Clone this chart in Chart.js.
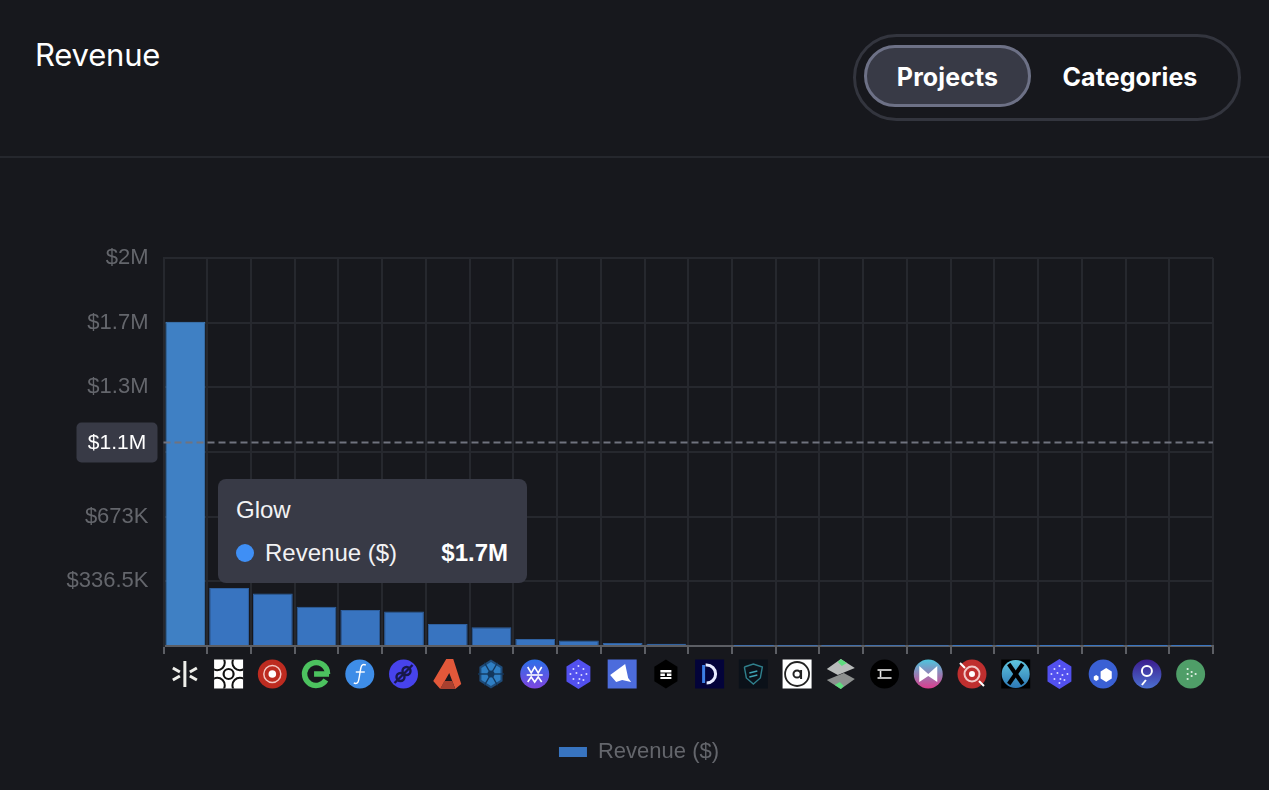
<!DOCTYPE html>
<html>
<head>
<meta charset="utf-8">
<title>Revenue</title>
<script src="https://cdn.jsdelivr.net/npm/chart.js@4"></script>
<style>
  html, body { margin: 0; padding: 0; background: #17181d; overflow: hidden; }
  #page { position: relative; width: 1269px; height: 790px; color: #fff; font-family: Inter, sans-serif; }
  #titulo { position: absolute; left: 35px; top: 36px; font-size: 31px; line-height: 38px; letter-spacing: -0.2px; }
  #divisor { position: absolute; left: 0; right: 0; top: 156px; height: 2px; background: #25272d; }
  #toggle { position: absolute; left: 853px; top: 34px; width: 382px; height: 81px; border: 3px solid #33353e; border-radius: 44px; }
  #toggle span { position: absolute; top: 8px; height: 56px; line-height: 58px; text-align: center; font-size: 25px; font-weight: 700; letter-spacing: 0.1px; }
  #btn-projects { left: 8px; width: 161px; background: #383a46; border: 3px solid #6d7186; border-radius: 31px; }
  #btn-categories { left: 179px; width: 190px; top: 11px !important; }
  canvas { position: absolute; left: 0; top: 0; }
  #tooltip { position: absolute; background: #383a46; border-radius: 8px; width: 309px; height: 104px; font-family: "Liberation Sans", Arial, sans-serif; }
  #tooltip .t { position: absolute; left: 18px; top: 17px; font-size: 24px; line-height: 28px; color: #f2f2f4; }
  #tooltip .dot { position: absolute; left: 18px; top: 65px; width: 18px; height: 18px; border-radius: 50%; background: #3f8ff5; }
  #tooltip .n { position: absolute; left: 47px; top: 60px; font-size: 24px; line-height: 28px; color: #f2f2f4; }
  #tooltip .v { position: absolute; right: 19px; top: 60px; font-size: 24px; line-height: 28px; font-weight: 700; color: #fff; }
</style>
</head>
<body>
<div id="page">
  <div id="titulo">Revenue</div>
  <div id="toggle">
    <span id="btn-projects">Projects</span>
    <span id="btn-categories">Categories</span>
  </div>
  <div id="divisor"></div>
  <canvas id="grafico" width="1269" height="790"></canvas>
  <div id="tooltip" style="display:none"></div>
</div>
<script>
const categories = ['Glow', 'rings', 'red-target', 'green-e', 'blue-f', 'indigo-link', 'red-a', 'blue-wheel',
  'wm', 'dots-hex', 'blue-square', 'black-hex', 'navy-d', 'shield', 'arrow-a', 'grey-s', 'black-glyph',
  'pink-m', 'red-globe', 'blue-x', 'dots-hex-2', 'blue-hex', 'purple-q', 'green-dots'];
const revenue = [1687000, 302000, 273000, 204000, 187000, 180000, 114000, 97000, 36000, 29000, 15600, 12000,
  5000, 1500, 1200, 1000, 800, 700, 600, 500, 400, 300, 200, 100];
const yTicks = [0, 336500, 673000, 1009500, 1346000, 1682500, 2019000];
const yTickLabels = ['', '$336.5K', '$673K', '', '$1.3M', '$1.7M', '$2M'];
const pointerValue = 1059000;
const pointerLabel = '$1.1M';
const seriesName = 'Revenue ($)';
const tooltipValue = '$1.7M';

const FONTE = '"Liberation Sans", Arial, sans-serif';
const CINZA = '#64666c';
const GRADE = '#26282e';

// helpers for the small logos under the axis
function circulo(c, r, cor) { c.fillStyle = cor; c.beginPath(); c.arc(0, 0, r, 0, Math.PI * 2); c.fill(); }
function hexagono(c, r, cor) {
  c.fillStyle = cor; c.beginPath();
  for (let i = 0; i < 6; i++) {
    const a = Math.PI / 6 + i * Math.PI / 3;
    c.lineTo(Math.cos(a) * r * 0.92, Math.sin(a) * r);
  }
  c.closePath(); c.fill();
}
function quadrado(c, r, cor) { c.fillStyle = cor; c.fillRect(-r, -r, r * 2, r * 2); }
function traco(c, cor, w, pts) {
  c.strokeStyle = cor; c.lineWidth = w; c.beginPath();
  pts.forEach(p => c.lineTo(p[0], p[1]));
  c.stroke();
}
function anel(c, r, cor, w, a0 = 0, a1 = Math.PI * 2) {
  c.strokeStyle = cor; c.lineWidth = w; c.beginPath(); c.arc(0, 0, r, a0, a1); c.stroke();
}
function pontos(c, cor) {
  c.fillStyle = cor;
  [[0, -8], [-5, -5], [5, -5], [-8, 0], [-2, -1], [3, 1], [8, 0], [-5, 5], [1, 5], [5, 6], [0, 9]].forEach(p => {
    c.beginPath(); c.arc(p[0], p[1], 1, 0, Math.PI * 2); c.fill();
  });
}
function gradiente(c, a, b) {
  const g = c.createLinearGradient(0, -14, 0, 14);
  g.addColorStop(0, a); g.addColorStop(1, b);
  return g;
}

const logos = {
  'Glow': c => {
    traco(c, '#eeeeea', 3, [[0, -13], [0, 13]]);
    [[-12, -6, -5, -2], [12, -6, 5, -2], [-12, 6, -5, 2], [12, 6, 5, 2]].forEach(l => traco(c, '#eeeeea', 3, [[l[0], l[1]], [l[2], l[3]]]));
  },
  'rings': c => {
    quadrado(c, 14.5, '#fff');
    c.save(); c.beginPath(); c.rect(-14.5, -14.5, 29, 29); c.clip();
    anel(c, 5, '#111', 2.2);
    [0, 1, 2, 3].forEach(i => {
      c.save(); c.rotate(i * Math.PI / 2 + Math.PI / 4);
      c.translate(0, -16); anel(c, 7.5, '#111', 2); c.restore();
    });
    c.restore();
  },
  'red-target': c => { circulo(c, 14.5, '#bd2b20'); anel(c, 8.5, '#f3c7c3', 1.5); circulo(c, 3.8, '#fff'); },
  'green-e': c => {
    anel(c, 11.5, '#4cc25f', 5.5, 0.55, Math.PI * 2);
    traco(c, '#4cc25f', 5.5, [[-2, 0], [13, 0]]);
  },
  'blue-f': c => {
    circulo(c, 14.5, '#3e8de8');
    c.strokeStyle = '#fff'; c.lineWidth = 1.4; c.beginPath();
    c.moveTo(6, -9); c.bezierCurveTo(1, -11, 1, -6, 0, 0); c.bezierCurveTo(-1, 6, -1, 11, -6, 9); c.stroke();
    traco(c, '#fff', 1.4, [[-4, -2], [5, -2]]);
  },
  'indigo-link': c => {
    circulo(c, 14.5, '#4743ec');
    c.save(); c.translate(3, -3); anel(c, 4, '#17184a', 2.4); c.restore();
    c.save(); c.translate(-3, 3); anel(c, 4, '#17184a', 2.4); c.restore();
    traco(c, '#17184a', 2.4, [[-9, 9], [9, -9]]);
  },
  'red-a': c => {
    c.fillStyle = '#e2583a'; c.beginPath();
    c.moveTo(-1, -15); c.lineTo(6, -15); c.lineTo(14, 10); c.lineTo(8, 15); c.lineTo(2, -1); c.lineTo(-7, 15); c.lineTo(-14, 7); c.closePath(); c.fill();
    c.fillStyle = '#a8402f'; c.beginPath();
    c.moveTo(-3, 7); c.lineTo(5, 7); c.lineTo(8, 15); c.lineTo(-7, 15); c.closePath(); c.fill();
  },
  'blue-wheel': c => {
    hexagono(c, 14.5, '#1f4c7a'); hexagono(c, 12, '#2f7fc4');
    for (let i = 0; i < 3; i++) {
      const a = i * Math.PI / 3;
      traco(c, '#14385d', 1.4, [[Math.cos(a) * 13, Math.sin(a) * 13], [-Math.cos(a) * 13, -Math.sin(a) * 13]]);
    }
    circulo(c, 3.5, '#14385d');
  },
  'wm': c => {
    c.fillStyle = gradiente(c, '#2d6fe8', '#7d46e0'); c.beginPath(); c.arc(0, 0, 14.5, 0, Math.PI * 2); c.fill();
    traco(c, '#fff', 1.6, [[-7, -7], [-3.5, -1], [0, -7], [3.5, -1], [7, -7]]);
    traco(c, '#fff', 1.6, [[-8, 1], [8, 1]]);
    traco(c, '#fff', 1.6, [[-7, 8], [-3.5, 3], [0, 8], [3.5, 3], [7, 8]]);
  },
  'dots-hex': c => { hexagono(c, 15, '#5250ee'); pontos(c, '#d9d9ff'); },
  'blue-square': c => {
    quadrado(c, 14.5, '#4c6cdc');
    c.fillStyle = '#fff'; c.beginPath();
    c.moveTo(-12, 1); c.lineTo(3, -10); c.lineTo(6, 4); c.lineTo(9, 8); c.lineTo(0, 6); c.lineTo(-6, 8); c.closePath(); c.fill();
  },
  'black-hex': c => {
    hexagono(c, 14.5, '#000');
    c.fillStyle = '#fff';
    c.fillRect(-5.5, -4, 11, 2.5); c.fillRect(-5.5, -0.5, 4.5, 2.5); c.fillRect(1, -0.5, 4.5, 2.5); c.fillRect(-5.5, 3, 11, 2);
  },
  'navy-d': c => {
    quadrado(c, 14.5, '#03033a');
    c.strokeStyle = '#3d7fe6'; c.lineWidth = 3; c.beginPath(); c.moveTo(-6, -9); c.lineTo(-6, 9); c.stroke();
    c.strokeStyle = '#e8ecff'; c.lineWidth = 3; c.beginPath(); c.moveTo(-4, -9); c.arc(-3, 0, 9, -Math.PI / 2, Math.PI / 2); c.stroke();
  },
  'shield': c => {
    quadrado(c, 14.5, '#0b1119');
    traco(c, '#2f7f8c', 1.4, [[-9, -7], [0, -10], [9, -7], [7, 4], [0, 10], [-7, 4], [-9, -7]]);
    traco(c, '#3fa5b5', 1.4, [[-4, -1], [4, -3]]);
    traco(c, '#3fa5b5', 1.4, [[-4, 3], [4, 1]]);
  },
  'arrow-a': c => {
    quadrado(c, 14.5, '#fff'); anel(c, 12, '#222', 1.8);
    c.save(); anel(c, 3.6, '#222', 2); traco(c, '#222', 2, [[4, -4], [4, 5]]); c.restore();
  },
  'grey-s': c => {
    c.fillStyle = '#b9bcbb'; c.beginPath();
    c.moveTo(0, -15); c.lineTo(14, -6); c.lineTo(-3, 1); c.lineTo(-14, -5); c.closePath(); c.fill();
    c.fillStyle = '#8d908f'; c.beginPath();
    c.moveTo(3, -1); c.lineTo(14, 5); c.lineTo(0, 15); c.lineTo(-14, 6); c.closePath(); c.fill();
    c.fillStyle = '#5fdc7f'; c.beginPath();
    c.moveTo(0, -15); c.lineTo(6, -11); c.lineTo(1, -8); c.lineTo(-3, -12); c.closePath(); c.fill();
    c.beginPath(); c.moveTo(0, 15); c.lineTo(-6, 11); c.lineTo(-1, 8); c.lineTo(3, 12); c.closePath(); c.fill();
  },
  'black-glyph': c => {
    circulo(c, 14.5, '#000');
    traco(c, '#e8e8e8', 1.6, [[-7, -4], [7, -4]]);
    traco(c, '#e8e8e8', 1.6, [[-7, 4], [7, 4]]);
    traco(c, '#e8e8e8', 1.6, [[-4, -3], [-4, 3]]);
  },
  'pink-m': c => {
    c.fillStyle = gradiente(c, '#4fc4dd', '#d93f8f'); c.beginPath(); c.arc(0, 0, 14.5, 0, Math.PI * 2); c.fill();
    c.fillStyle = '#fff'; c.beginPath();
    c.moveTo(-9, -8); c.lineTo(0, 0); c.lineTo(9, -8); c.lineTo(9, 8); c.lineTo(0, 2); c.lineTo(-9, 8); c.closePath(); c.fill();
  },
  'red-globe': c => {
    circulo(c, 14.5, '#bf2f2f'); anel(c, 7.5, '#f2c9c9', 2); circulo(c, 3, '#fff');
    traco(c, '#fff', 2, [[-12, -11], [-7, -6]]);
    traco(c, '#fff', 2, [[7, 7], [12, 12]]);
  },
  'blue-x': c => {
    quadrado(c, 14.5, '#000');
    c.fillStyle = gradiente(c, '#5fc6de', '#2d78b5'); c.beginPath(); c.arc(0, 0, 14, 0, Math.PI * 2); c.fill();
    traco(c, '#000', 4, [[-7, -10], [7, 10]]);
    traco(c, '#000', 4, [[7, -10], [-7, 10]]);
  },
  'dots-hex-2': c => { hexagono(c, 15, '#5250ee'); pontos(c, '#d9d9ff'); },
  'blue-hex': c => {
    circulo(c, 14.5, '#3a60d4');
    c.save(); c.translate(3, 1); hexagono(c, 7, '#fff'); c.restore();
    c.save(); c.translate(-7, 4); hexagono(c, 3, '#fff'); c.restore();
  },
  'purple-q': c => {
    c.fillStyle = gradiente(c, '#3c1d8f', '#4b6fd0'); c.beginPath(); c.arc(0, 0, 14.5, 0, Math.PI * 2); c.fill();
    c.save(); c.translate(0, -3); anel(c, 5, '#fff', 2); c.restore();
    traco(c, '#fff', 2, [[-1, 6], [-5, 11]]);
  },
  'green-dots': c => {
    circulo(c, 14.5, '#4f9e68'); c.fillStyle = '#dff0e3';
    [[-3, -5], [-3, 0], [-3, 5], [1, -2], [1, 2], [5, 0]].forEach(p => { c.beginPath(); c.arc(p[0], p[1], 1.1, 0, Math.PI * 2); c.fill(); });
  }
};

const logosPlugin = {
  id: 'logosPlugin',
  afterDraw(chart) {
    const c = chart.ctx, x = chart.scales.x;
    categories.forEach((nome, i) => {
      c.save();
      c.translate(x.getPixelForTick(i) - 0.5, chart.chartArea.bottom + 28);
      c.lineCap = 'butt';
      logos[nome](c);
      c.restore();
    });
  }
};

// linha tracejada + etiqueta do eixo
const pointerPlugin = {
  id: 'pointerPlugin',
  afterDatasetsDraw(chart) {
    const c = chart.ctx, a = chart.chartArea;
    const y = chart.scales.y.getPixelForValue(pointerValue);
    c.save();
    c.strokeStyle = '#70737f'; c.lineWidth = 2; c.setLineDash([7, 4]);
    c.beginPath(); c.moveTo(a.left, y); c.lineTo(a.right, y); c.stroke();
    c.setLineDash([]);
    c.fillStyle = '#383a46';
    c.beginPath(); c.roundRect(a.left - 87, y - 20, 81, 40, 5); c.fill();
    c.fillStyle = '#fff'; c.font = '21px ' + FONTE; c.textAlign = 'center'; c.textBaseline = 'middle';
    c.fillText(pointerLabel, a.left - 46.5, y + 1);
    c.restore();
  }
};

function mostrarTooltip(ctx) {
  const el = document.getElementById('tooltip');
  const t = ctx.tooltip;
  if (t.opacity === 0) { el.style.display = 'none'; return; }
  el.innerHTML = '<div class="t">' + t.title[0] + '</div><div class="dot"></div>' +
    '<div class="n">' + seriesName + '</div><div class="v">' + tooltipValue + '</div>';
  el.style.display = 'block';
  el.style.left = '218px';
  el.style.top = '479px';
}

const chart = new Chart(document.getElementById('grafico'), {
  type: 'bar',
  data: {
    labels: categories,
    datasets: [{
      label: seriesName,
      data: revenue,
      backgroundColor: c => c.dataIndex === 0 ? '#3f80c4' : '#3874c0',
      hoverBackgroundColor: c => c.dataIndex === 0 ? '#3f80c4' : '#3874c0',
      borderColor: c => c.dataIndex === 0 ? '#3f80c4' : '#2f609f',
      hoverBorderColor: c => c.dataIndex === 0 ? '#3f80c4' : '#2f609f',
      // tiny bars vanish into the axis, no outline for them
      borderWidth: c => revenue[c.dataIndex] < 3000 ? 0 : 1,
      hoverBorderWidth: c => revenue[c.dataIndex] < 3000 ? 0 : 1,
      barPercentage: 0.91,
      categoryPercentage: 1
    }]
  },
  plugins: [pointerPlugin, logosPlugin],
  options: {
    responsive: false,
    animation: false,
    devicePixelRatio: 1,
    layout: { padding: { top: 258, right: 56, bottom: 17, left: 65 } },
    interaction: { mode: 'index', intersect: false },
    plugins: {
      legend: {
        position: 'bottom',
        labels: {
          color: CINZA, font: { family: FONTE, size: 22 },
          boxWidth: 28, boxHeight: 10, padding: 9,
          generateLabels: () => [{ text: seriesName, fillStyle: '#3874c0', strokeStyle: '#3874c0', lineWidth: 0, fontColor: CINZA }]
        }
      },
      tooltip: { enabled: false, external: mostrarTooltip }
    },
    scales: {
      x: {
        grid: { color: GRADE, lineWidth: 2, tickColor: '#5c5e64', tickLength: 8, offset: true },
        border: { color: '#5c5e64', width: 2 },
        ticks: { display: false, autoSkip: false },
        afterFit: s => { s.height = 86; }
      },
      y: {
        min: 0,
        max: 2019000,
        afterBuildTicks: s => { s.ticks = yTicks.map(v => ({ value: v })); },
        afterFit: s => { s.width = 98.5; },
        grid: { color: GRADE, lineWidth: 2, drawTicks: false },
        border: { color: GRADE, width: 2 },
        ticks: {
          color: CINZA,
          padding: 15,
          font: { family: FONTE, size: 22 },
          callback: (v, i) => yTickLabels[i]
        }
      }
    }
  }
});

chart.setActiveElements([{ datasetIndex: 0, index: 0 }]);
chart.tooltip.setActiveElements([{ datasetIndex: 0, index: 0 }], { x: 185, y: 400 });
chart.update();
</script>
</body>
</html>
